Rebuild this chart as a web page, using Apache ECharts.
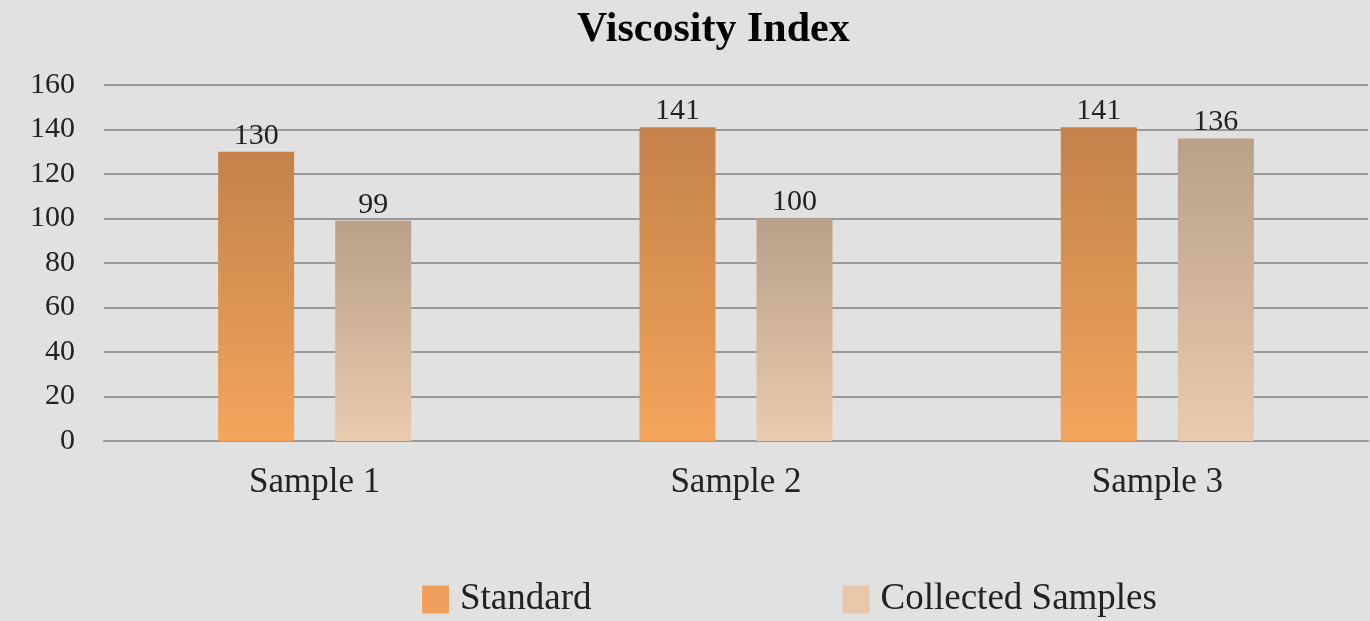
<!DOCTYPE html>
<html>
<head>
<meta charset="utf-8">
<script src="https://cdn.jsdelivr.net/npm/echarts@6/dist/echarts.min.js"></script>
<style>
  html, body { margin: 0; padding: 0; background: #e1e1e1; }
  #chart { width: 1370px; height: 621px; }
</style>
</head>
<body>
<div id="chart"></div>
<script>
// data
const categories = ["Sample 1", "Sample 2", "Sample 3"];
const standard = [130, 141, 141];
const collected = [99, 100, 136];
const seriesNames = ["Standard", "Collected Samples"];

const font = "'Liberation Serif', 'Times New Roman', serif";

function grad(top, bottom) {
  return new echarts.graphic.LinearGradient(0, 0, 0, 1, [
    { offset: 0, color: top },
    { offset: 1, color: bottom },
  ]);
}

let myEchart = echarts.init(document.getElementById("chart"));
let options = {
  backgroundColor: "#e1e1e1",
  title: {
    text: "Viscosity Index",
    left: 572,
    top: 4,
    textStyle: {
      fontFamily: font,
      fontWeight: "bold",
      fontSize: 42,
      color: "#000",
    },
  },
  legend: {
    bottom: -2,
    left: 417,
    itemGap: 251,
    itemWidth: 27,
    itemHeight: 28,
    icon: "rect",
    textStyle: {
      fontFamily: font,
      fontSize: 37,
      color: "#222",
      padding: [0, 0, 0, 6],
    },
    data: [
      { name: seriesNames[0], itemStyle: { color: "#f0a05a" } },
      { name: seriesNames[1], itemStyle: { color: "#e8c8aa" } },
    ],
  },
  grid: {
    left: 104,
    right: 2,
    top: 85,
    bottom: 180,
    containLabel: false,
  },
  xAxis: {
    type: "category",
    data: categories,
    axisLine: { lineStyle: { color: "#999", width: 2 } },
    axisTick: { show: false },
    axisLabel: {
      fontFamily: font,
      fontSize: 35,
      color: "#222",
      margin: 24,
    },
  },
  yAxis: {
    type: "value",
    min: 0,
    max: 160,
    interval: 20,
    axisLine: { show: false },
    axisTick: { show: false },
    axisLabel: {
      fontFamily: font,
      fontSize: 30,
      color: "#222",
      margin: 29,
    },
    splitLine: { lineStyle: { color: "#999", width: 2 } },
  },
  series: [
    {
      name: seriesNames[0],
      type: "bar",
      data: standard,
      barWidth: 76,
      barGap: "54%",
      itemStyle: { color: grad("#c4824a", "#f3a55c") },
      label: {
        show: true,
        position: "top",
        distance: 1,
        fontFamily: font,
        fontSize: 30,
        color: "#222",
      },
    },
    {
      name: seriesNames[1],
      type: "bar",
      data: collected,
      barWidth: 76,
      itemStyle: { color: grad("#b9a089", "#e9cbb0") },
      label: {
        show: true,
        position: "top",
        distance: 1,
        fontFamily: font,
        fontSize: 30,
        color: "#222",
      },
    },
  ],
};
myEchart.setOption(options);
</script>
</body>
</html>
